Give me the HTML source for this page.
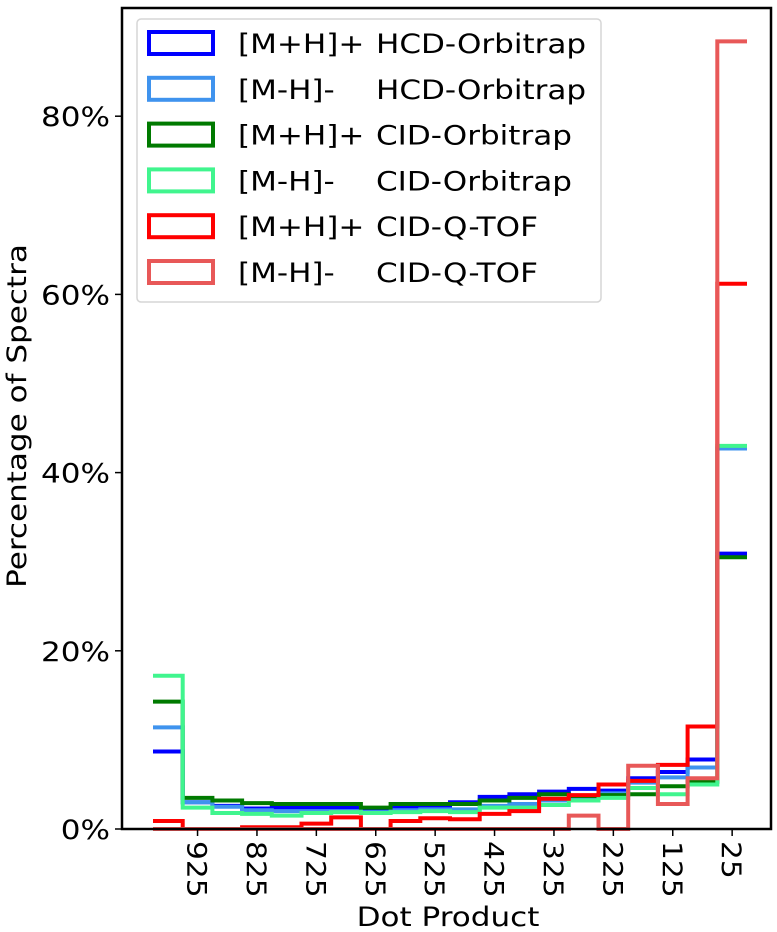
<!DOCTYPE html>
<html><head><meta charset="utf-8"><style>
html,body{margin:0;padding:0;background:#fff;}
svg{display:block;font-family:"DejaVu Sans","Liberation Sans",sans-serif;}
</style></head><body>
<svg id="chart" width="777" height="932" viewBox="0 0 777 932" xmlns="http://www.w3.org/2000/svg">
<rect x="0" y="0" width="777" height="932" fill="#fff"/>
<g id="series"></g>
<rect x="122" y="8" width="649" height="821" fill="none" stroke="#000" stroke-width="2.5"/>
<g id="yticks"></g>
<g id="xticks"></g>
<text transform="translate(26,416) rotate(-90) scale(1.15,1)" text-anchor="middle" font-size="27">Percentage of Spectra</text>
<text transform="translate(448,926) scale(1.15,1)" text-anchor="middle" font-size="27">Dot Product</text>
<g id="legend"></g>
</svg>
<script>
const binStarts = [1000,950,900,850,800,750,700,650,600,550,500,450,400,350,300,250,200,150,100,50];
const seriesNames = ["[M+H]+ HCD-Orbitrap","[M-H]- HCD-Orbitrap","[M+H]+ CID-Orbitrap","[M-H]- CID-Orbitrap","[M+H]+ CID-Q-TOF","[M-H]- CID-Q-TOF"];
const adductLabels = ["[M+H]+","[M-H]-","[M+H]+","[M-H]-","[M+H]+","[M-H]-"];
const instrumentLabels = ["HCD-Orbitrap","HCD-Orbitrap","CID-Orbitrap","CID-Orbitrap","CID-Q-TOF","CID-Q-TOF"];
const hcdPos = [8.7,3.0,2.6,2.3,2.4,2.4,2.4,2.0,2.4,2.6,3.0,3.6,3.9,4.2,4.5,4.3,5.7,6.4,7.8,30.9];
const hcdNeg = [11.4,3.0,2.5,2.1,2.0,2.0,2.0,1.9,2.1,2.2,2.2,2.6,2.8,3.2,3.4,4.0,5.2,5.8,6.9,42.7];
const cidPos = [14.3,3.5,3.2,2.9,2.8,2.8,2.8,2.4,2.8,2.8,2.8,3.2,3.5,3.9,3.7,3.8,3.9,4.8,5.3,30.5];
const cidNeg = [17.2,2.4,1.8,1.7,1.5,1.8,1.9,1.8,1.9,2.0,1.9,2.4,2.4,2.7,3.2,3.5,4.6,3.9,5.0,43.0];
const qtofPos = [0.9,0,0,0.2,0.2,0.6,1.3,0,0.9,1.2,1.1,1.7,2.0,3.4,3.8,5.0,5.4,7.2,11.5,61.2];
const qtofNeg = [0,0,0,0,0,0,0,0,0,0,0,0,0,0,1.5,0,7.1,2.8,5.7,88.4];
const yTicks = [0,20,40,60,80];
const xTicks = [925,825,725,625,525,425,325,225,125,25];

const colors = ["#0000ff","#3f93ee","#007a00","#40f58e","#ff0000","#e85858"];
const allSeries = [hcdPos,hcdNeg,cidPos,cidNeg,qtofPos,qtofNeg];
const binWidth = 50;
const NS = "http://www.w3.org/2000/svg";
function x(v){ return 747 - 0.594*v; }
function y(p){ return 829 - 8.91*p; }
function mk(tag, attrs, parent){ const e=document.createElementNS(NS,tag); for(const k in attrs) e.setAttribute(k,attrs[k]); parent.appendChild(e); return e; }

const sg = document.getElementById('series');
allSeries.forEach((vals,si)=>{
  let d = "";
  vals.forEach((v,i)=>{
    const x0 = x(binStarts[i]), x1 = x(binStarts[i]-binWidth);
    d += (i===0 ? "M"+x0+","+y(v) : "L"+x0+","+y(v)) + " L"+x1+","+y(v)+" ";
  });
  const p = mk('path',{d:d,fill:"none",stroke:colors[si],"stroke-width":4,"stroke-linejoin":"miter"},sg);
  
  
});

const yg = document.getElementById('yticks');
yTicks.forEach(t=>{
  const l = mk('line',{x1:115,x2:122,y1:y(t),y2:y(t),stroke:"#000","stroke-width":1.5},yg);
  
  
  const tx = mk('text',{transform:"translate(110,"+(y(t)+10)+") scale(1.15,1)","text-anchor":"end","font-size":27},yg);
  tx.textContent = t+"%";
  
  
});
const xg = document.getElementById('xticks');
xTicks.forEach(t=>{
  const l = mk('line',{x1:x(t),x2:x(t),y1:829,y2:836,stroke:"#000","stroke-width":1.5},xg);
  
  
  const tx = mk('text',{transform:"translate("+(x(t)-10)+",841) rotate(90) scale(1.1,1)","text-anchor":"start","font-size":27},xg);
  tx.textContent = String(t);
  
  
});

const lg = document.getElementById('legend');
const box = mk('rect',{x:137,y:19,width:464,height:283,rx:4,fill:"#fff","fill-opacity":0.85,stroke:"#d5d5d5","stroke-width":1.5},lg);


seriesNames.forEach((n,i)=>{
  const cy = 43 + i*45.8;
  const g = mk('g',{},lg);
  
  
  mk('rect',{x:149,y:cy-11,width:64,height:22,fill:"none",stroke:colors[i],"stroke-width":4},g);
  const t1 = mk('text',{transform:"translate(238,"+(cy+10)+") scale(1.15,1)","font-size":27},g);
  t1.textContent = adductLabels[i];
  const t2 = mk('text',{transform:"translate(376,"+(cy+10)+") scale(1.15,1)","font-size":27},g);
  t2.textContent = instrumentLabels[i];
});
</script>
</body></html>
